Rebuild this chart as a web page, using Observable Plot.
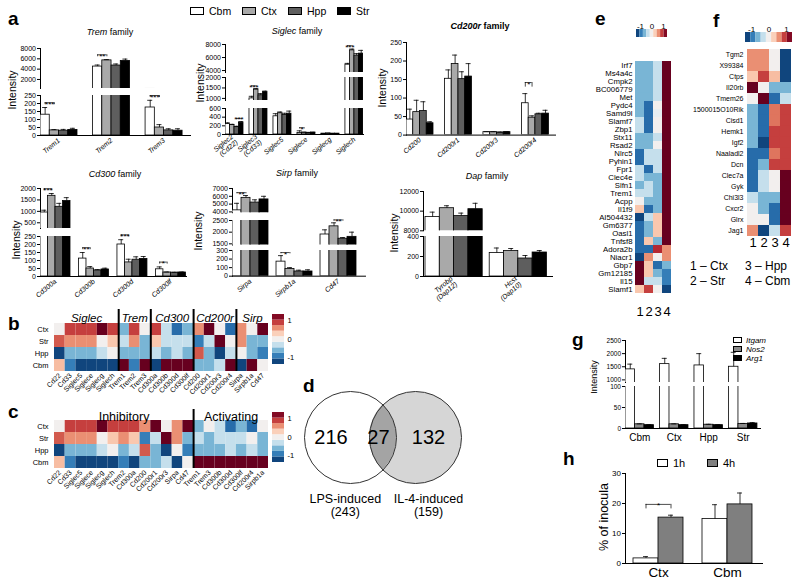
<!DOCTYPE html>
<html><head><meta charset="utf-8">
<script src="https://cdn.jsdelivr.net/npm/d3@7"></script>
<script src="https://cdn.jsdelivr.net/npm/@observablehq/plot@0.6"></script>
<style>
body{margin:0;background:#fff;}
#root{position:relative;width:800px;height:584px;overflow:hidden;background:#fff;}
</style></head>
<body><div id="root"></div>
<script>
// ================= DATA =================
const regions = ["Cbm", "Ctx", "Hpp", "Str"];
const regionFills = ["#ffffff", "#a9a9a9", "#5e5e5e", "#000000"];

const tremGenes = ["Trem1", "Trem2", "Trem3"];
const tremMean = [[130, 32, 30, 35], [4500, 5700, 4700, 5600], [175, 50, 32, 30]];
const tremErr = [[45, 5, 8, 10], [300, 150, 300, 350], [45, 18, 10, 12]];
const tremSig = [["Trem1", "Cbm", "Ctx", "***"], ["Trem2", "Cbm", "Ctx", "**"], ["Trem3", "Cbm", "Ctx", "***"]];

const siglecGenes = ["Siglec2", "Siglec3", "Siglec5", "Siglece", "Siglecg", "Siglech"];
const siglecLabels = ["Siglec2\n(Cd22)", "Siglec3\n(Cd33)", "Siglec5", "Siglece", "Siglecg", "Siglech"];
const siglecMean = [[240, 220, 170, 270], [1000, 1420, 1150, 1300], [420, 490, 450, 480], [35, 45, 40, 45], [20, 25, 20, 20], [4900, 7100, 6300, 6600]];
const siglecErr = [[30, 15, 20, 30], [100, 50, 80, 50], [60, 30, 40, 60], [50, 5, 5, 5], [3, 3, 3, 3], [200, 200, 300, 500]];
const siglecSig = [["Siglec2", "Hpp", "Str", "***"], ["Siglec3", "Cbm", "Ctx", "***"], ["Siglece", "Cbm", "Ctx", "*"], ["Siglech", "Cbm", "Ctx", "***"]];

const cd200rGenes = ["Cd200", "Cd200r1", "Cd200r3", "Cd200r4"];
const cd200rMean = [[42, 62, 65, 32], [152, 192, 151, 158], [8, 8, 7, 8], [86, 47, 56, 58]];
const cd200rErr = [[28, 32, 25, 4], [24, 24, 20, 35], [1, 1, 1, 1], [26, 5, 3, 9]];
const cd200rSig = [["Cd200r4", "Cbm", "Ctx", "*"]];

const cd300Genes = ["Cd300a", "Cd300b", "Cd300d", "Cd300lf"];
const cd300Mean = [[950, 1680, 1200, 1450], [112, 50, 38, 44], [200, 88, 105, 110], [45, 25, 24, 25]];
const cd300Err = [[100, 100, 150, 150], [38, 12, 5, 8], [30, 20, 18, 15], [15, 3, 2, 3]];
const cd300Sig = [["Cd300a", "Cbm", "Ctx", "***"], ["Cd300b", "Cbm", "Ctx", "**"], ["Cd300d", "Cbm", "Ctx", "***"], ["Cd300lf", "Cbm", "Ctx", "*"]];

const sirpGenes = ["Sirpa", "Sirpb1a", "Cd47"];
const sirpMean = [[4200, 5800, 5200, 5600], [170, 85, 55, 55], [1900, 2250, 1720, 1800]];
const sirpErr = [[900, 300, 350, 400], [70, 15, 15, 20], [200, 150, 50, 200]];
const sirpSig = [["Sirpa", "Cbm", "Ctx", "**"], ["Sirpb1a", "Cbm", "Ctx", "*"], ["Cd47", "Ctx", "Hpp", "**"]];

const dapGenes = ["Tyrobp", "Hcst"];
const dapLabels = ["Tyrobp\n(Dap12)", "Hcst\n(Dap10)"];
const dapMean = [[9400, 10300, 9500, 10200], [235, 255, 180, 240]];
const dapErr = [[500, 250, 300, 600], [50, 25, 30, 20]];

// panel b / c heatmaps (rows: Ctx, Str, Hpp, Cbm)
const bRows = ["Ctx", "Str", "Hpp", "Cbm"];
const bGenes = ["Cd22", "Cd33", "Siglec5", "Siglece", "Siglecg", "Siglech", "Trem1", "Trem2", "Trem3", "Cd300a", "Cd300b", "Cd300d", "Cd300lf", "Cd200", "Cd200r1", "Cd200r3", "Cd200r4", "Sirpa", "Sirpb1a", "Cd47"];
const bValues = [
  [0, 0.8, -1.2, 0.4], [0.9, 0.6, -0.6, -0.9], [0.9, 0.6, -0.6, -1.2], [0.9, 0.6, -0.6, -1.2],
  [1.3, 0, -0.3, -1.2], [0.9, 0.35, 0, -1.2], [-0.6, -0.3, -0.6, 1.3], [0.9, 0.6, -0.6, -0.9],
  [0, -0.6, -0.6, 1.3], [0.9, 0.35, -0.3, -1.2], [-0.3, -0.3, -0.6, 1.3], [-1.0, -0.3, -0.3, 1.3],
  [-0.6, -0.3, -0.6, 1.3], [0.6, -0.9, 0.8, -0.6], [1.3, -0.3, -0.6, -0.6], [0, 1.3, -1.2, -0.3],
  [-1.0, 0, -0.3, 1.3], [0.6, 0.6, 0, -1.2], [0, -0.6, -0.6, 1.3], [1.3, -0.6, -0.9, 0]
];
const bGroups = ["Siglec", "Trem", "Cd300", "Cd200r", "Sirp"];
const bGroupSizes = [6, 3, 4, 4, 3];
const cGenes = ["Cd22", "Cd33", "Siglec5", "Siglece", "Siglecg", "Siglech", "Trem2", "Cd300a", "Cd200", "Cd200r1", "Cd200r3", "Sirpa", "Cd47", "Trem1", "Trem3", "Cd300b", "Cd300d", "Cd300lf", "Cd200r4", "Sirpb1a"];
const cGroups = ["Inhibitory", "Activating"];
const cGroupSizes = [13, 7];

// panel d Venn
const vennSets = ["LPS-induced", "IL-4-induced"];
const vennTotals = [243, 159];
const vennCounts = [216, 27, 132];

// panel e heatmap (columns 1..4)
const eGenes = ["Irf7", "Ms4a4c", "Cmpk2", "BC006779", "Met", "Pydc4", "Samd9l", "Slamf7", "Zbp1", "Stx11", "Rsad2", "Nlrc5", "Pyhin1", "Fpr1", "Clec4e", "Slfn1", "Trem1", "Acpp", "Il1f9", "AI504432", "Gm6377", "Oasl1", "Tnfsf8", "Adora2b", "Niacr1", "Gbp7", "Gm12185", "Il15", "Slamf1"];
const eValues = [
  [-0.6, -0.6, -0.3, 1.3], [-0.6, -0.6, -0.3, 1.3], [-0.6, -0.6, -0.3, 1.3], [-0.6, -0.6, -0.3, 1.3],
  [-0.6, -0.6, -0.3, 1.3], [-0.6, -1.0, 0, 1.3], [-0.6, -1.0, -0.1, 1.3], [-0.3, -1.0, 0, 1.3],
  [-0.3, -1.0, 0, 1.3], [-0.6, -0.6, -0.3, 1.3], [-0.6, -0.6, 0, 1.3], [-1.0, -0.3, -0.3, 1.3],
  [-1.0, -0.3, -0.3, 1.3], [-0.3, -1.0, -0.3, 1.3], [-0.3, -0.6, -0.6, 1.3], [-0.6, -0.3, -0.6, 1.3],
  [-0.3, -0.3, -0.6, 1.3], [0, -0.6, -0.6, 1.3], [0.35, -1.0, -0.6, 1.3], [-1.2, -0.3, 0.35, 1.3],
  [-1.0, -0.6, 0.35, 1.3], [-1.0, -0.6, 0.35, 1.3], [-1.0, 0.35, -0.6, 1.3], [-1.0, -1.0, 1.0, 0.6],
  [-1.2, 0.6, 0, 0.6], [1.3, 0.35, -1.0, -0.6], [1.3, 0.35, -0.6, -0.9], [1.3, -0.3, -0.3, -0.9],
  [0.35, 0.9, 0, -1.2]
];
// panel f heatmap
const fGenes = ["Tgm2", "X99384", "Ctps", "Il20rb", "Tmem26", "1500015O10Rik", "Cisd1", "Hemk1", "Igf2", "Naaladl2", "Dcn", "Clec7a", "Gyk", "Chi3l3", "Cxcr2", "Glrx", "Jag1"];
const fValues = [
  [0.6, 0.6, 0, -1.2], [0.6, 0.6, 0, -1.2], [0.35, 0.9, 0.4, -1.2], [1.3, 0, -0.6, -0.6],
  [0, 1.3, -1.0, -0.3], [-0.6, -1.0, 0.7, 0.9], [-0.6, -1.0, 0.7, 0.9], [-0.6, -1.0, 0.9, 0.9],
  [-0.6, -1.2, 0.9, 0.9], [-1.0, -1.0, 0.7, 0.9], [-1.0, -0.6, 0.9, 0.9], [-1.0, -0.3, 0, 1.3],
  [-1.0, -0.3, 0, 1.3], [-0.3, -0.6, -0.6, 1.3], [0, -0.6, -1.0, 1.3], [0, 0, -1.0, 1.3],
  [0.6, -1.2, -0.3, 0.9]
];
const heatCols = ["1", "2", "3", "4"];
const legendSteps = [-1.2, -0.9, -0.6, -0.3, 0, 0.3, 0.6, 0.9, 1.2];
const legendTicks = [-1, 0, 1];

// panel g
const gGroups = ["Cbm", "Ctx", "Hpp", "Str"];
const gSeries = ["Itgam", "Nos2", "Arg1"];
const gFills = ["#ffffff", "#8a8a8a", "#000000"];
const gMean = [[1400, 10, 8], [1600, 10, 8], [1550, 9, 8], [1500, 11, 12]];
const gErr = [[200, 1, 1], [220, 1, 1], [450, 1, 1], [550, 1, 2]];

// panel h
const hGroups = ["Ctx", "Cbm"];
const hSeries = ["1h", "4h"];
const hFills = ["#ffffff", "#7f7f7f"];
const hMean = [[1.7, 15.3], [14.8, 19.7]];
const hErr = [[0.6, 0.8], [4.8, 3.8]];
const hSig = [["Ctx", "1h", "4h", "*"]];

// ================= HELPERS =================
const FONT = '"Liberation Sans", Arial, Helvetica, sans-serif';
const root = document.getElementById("root");
const heatColor = {type: "linear", scheme: "rdbu", reverse: true, domain: [-1.3, 1.3]};
const legendFmt = d => (d < 0 ? "-" : "") + Math.abs(d);

function place(node, x, y) {
  node.style.position = "absolute";
  node.style.left = x + "px";
  node.style.top = y + "px";
  root.appendChild(node);
  return node;
}
function txt(html, x, base, size, opts = {}) {
  const d = document.createElement("div");
  d.innerHTML = html;
  const a = opts.anchor || "start";
  const tx = a === "middle" ? "-50%" : a === "end" ? "-100%" : "0";
  d.style.cssText = `position:absolute;white-space:nowrap;line-height:1;font-family:${FONT};font-size:${size}px;left:${x}px;top:${base - 0.846 * size}px;transform:translateX(${tx});` + (opts.css || "");
  root.appendChild(d);
}
function vtxt(html, cx, cy, size, css = "") {
  const d = document.createElement("div");
  d.innerHTML = html;
  d.style.cssText = `position:absolute;white-space:nowrap;line-height:1;font-family:${FONT};font-size:${size}px;left:${cx}px;top:${cy}px;transform:translate(-50%,-50%) rotate(-90deg);` + css;
  root.appendChild(d);
}
function swatch(x, y, w, h, fill) {
  const d = document.createElement("div");
  d.style.cssText = `position:absolute;left:${x}px;top:${y}px;width:${w}px;height:${h}px;background:${fill};border:1px solid #000;box-sizing:border-box;`;
  root.appendChild(d);
}
function styleX(p, size, italic) {
  p.querySelectorAll('[aria-label^="x-axis"] text').forEach(t => {
    t.style.fontSize = size + "px";
    if (italic) t.style.fontStyle = "italic";
  });
}
function styleY(p, size) {
  p.querySelectorAll('[aria-label^="y-axis"] text').forEach(t => { t.style.fontSize = size + "px"; });
}

// Grouped bar chart with (optionally) broken y axis: one Plot per axis segment
function barChart(c) {
  const nS = c.series.length, stride = nS + c.gap, off = c.offset || 0;
  const pos = (gi, si) => off + gi * stride + si;
  const rows = [];
  c.genes.forEach((g, gi) => c.series.forEach((s, si) =>
    rows.push({gi, si, v: c.mean[gi][si], e: c.err[gi][si], fill: c.fills[si]})));
  const frameW = c.axisEnd - c.left, xMax = frameW / c.bar;
  const labels = c.labels || c.genes;
  const centers = c.genes.map((g, gi) => pos(gi, 0) + nS / 2);
  const labAt = new Map(centers.map((x, i) => [x, labels[i]]));
  const cap = 2.5 / c.bar;
  const sigs = (c.sig || []).map(([g, a, b, t]) => {
    const gi = c.genes.indexOf(g), ai = c.series.indexOf(a), bi = c.series.indexOf(b);
    const top = Math.max(c.mean[gi][ai] + c.err[gi][ai], c.mean[gi][bi] + c.err[gi][bi]);
    return {xa: pos(gi, ai) + 0.5, xb: pos(gi, bi) + 0.5, top, t};
  });
  const segOf = s => {
    let k = c.segs.findIndex(sg => s.top >= sg.d[0] && s.top <= sg.d[1]);
    if (k < 0) {
      let best = -1, bestD1 = -Infinity;
      c.segs.forEach((sg, j) => { if (sg.d[1] < s.top && sg.d[1] > bestD1) { best = j; bestD1 = sg.d[1]; } });
      k = best < 0 ? 0 : best;
    }
    return k;
  };
  c.segs.forEach((seg, k) => {
    const first = k === 0, last = k === c.segs.length - 1;
    const span = seg.d[1] - seg.d[0];
    const mine = sigs.filter(s => segOf(s) === k).map(s => ({...s, h: s.top + 0.12 * span, tip: 0.05 * span}));
    const ML = 34, MR = 4, MT = first ? 18 : 4, MB = last ? 34 : 2;
    const H = seg.b - seg.t;
    const p = Plot.plot({
      width: ML + frameW + MR, height: MT + H + MB,
      marginLeft: ML, marginRight: MR, marginTop: MT, marginBottom: MB,
      style: {fontFamily: FONT, fontSize: c.tick + "px", background: "transparent", overflow: "visible", color: "#000"},
      color: {type: "identity"},
      x: last
        ? {domain: [0, xMax], ticks: centers, tickFormat: d => labAt.get(d), tickRotate: c.rotate || 0, tickSize: 0, tickPadding: c.xPad, line: true, label: null}
        : {domain: [0, xMax], axis: null},
      y: {domain: seg.d, ticks: seg.ticks, tickFormat: "d", tickSize: 3, tickPadding: 1.5, line: true, label: null},
      marks: [
        Plot.rect(rows, {x1: d => pos(d.gi, d.si), x2: d => pos(d.gi, d.si) + 1, y1: 0, y2: "v", fill: "fill", stroke: "#000", strokeWidth: 0.8, clip: true}),
        Plot.ruleX(rows, {x: d => pos(d.gi, d.si) + 0.5, y1: "v", y2: d => d.v + d.e, stroke: "#000", strokeWidth: 0.8, clip: true}),
        Plot.ruleY(rows, {x1: d => pos(d.gi, d.si) + 0.5 - cap, x2: d => pos(d.gi, d.si) + 0.5 + cap, y: d => d.v + d.e, stroke: "#000", strokeWidth: 0.8, clip: true}),
        Plot.ruleY(mine, {x1: "xa", x2: "xb", y: "h", stroke: "#000", strokeWidth: 0.7}),
        Plot.ruleX(mine, {x: "xa", y1: d => d.h - d.tip, y2: "h", stroke: "#000", strokeWidth: 0.7}),
        Plot.ruleX(mine, {x: "xb", y1: d => d.h - d.tip, y2: "h", stroke: "#000", strokeWidth: 0.7}),
        Plot.text(mine, {x: d => (d.xa + d.xb) / 2, y: "h", text: "t", lineAnchor: "bottom", dy: 4, fontSize: 8, fill: "#000"})
      ]
    });
    if (last) styleX(p, c.xFont, c.italic);
    place(p, c.left - ML, seg.t - MT);
  });
}

function stripHeat(cfg) {
  const {genes, rows, values, groups, sizes, italic, x0, x1, y0, rowH} = cfg;
  const n = genes.length;
  const cells = [];
  genes.forEach((g, i) => rows.forEach((r, j) => cells.push({i, r, v: values[i][j]})));
  const starts = [];
  sizes.reduce((acc, s) => (starts.push(acc), acc + s), 0);
  const centers = d3.range(n).map(i => i + 0.5);
  const labAt = new Map(centers.map((x, i) => [x, genes[i]]));
  const ML = 40, MR = 2, MT = 22, MB = 34;
  const W = x1 - x0, H = rows.length * rowH;
  const p = Plot.plot({
    width: ML + W + MR, height: MT + H + MB,
    marginLeft: ML, marginRight: MR, marginTop: MT, marginBottom: MB,
    style: {fontFamily: FONT, fontSize: "7px", background: "transparent", overflow: "visible", color: "#000"},
    x: {domain: [0, n], ticks: centers, tickFormat: d => labAt.get(d), tickRotate: -45, tickSize: 0, tickPadding: 3, label: null},
    y: {domain: rows, padding: 0, tickSize: 0, tickPadding: 6, label: null},
    color: heatColor,
    marks: [
      Plot.barX(cells, {x1: "i", x2: d => d.i + 1, y: "r", fill: "v"}),
      Plot.ruleX(starts.slice(1), {stroke: "#000", strokeWidth: 2, insetTop: -cfg.sepUp}),
      Plot.text(groups, {x: (d, k) => starts[k] + sizes[k] / 2, frameAnchor: "top", dy: -cfg.labUp, text: d => d, fontSize: cfg.labFont, fontStyle: italic ? "italic" : "normal", fill: "#000"})
    ]
  });
  styleY(p, 7.5);
  place(p, x0 - ML, y0 - MT);
}

function colHeat(genes, values, x0, x1, y0, y1, rowFont) {
  const cells = genes.flatMap((g, i) => heatCols.map((c, j) => ({g, c, v: values[i][j]})));
  const ML = 80, MR = 2, MT = 1, MB = 20;
  const p = Plot.plot({
    width: ML + (x1 - x0) + MR, height: MT + (y1 - y0) + MB,
    marginLeft: ML, marginRight: MR, marginTop: MT, marginBottom: MB,
    style: {fontFamily: FONT, fontSize: rowFont + "px", background: "transparent", overflow: "visible", color: "#000"},
    x: {domain: heatCols, padding: 0, tickSize: 0, tickPadding: 1, label: null},
    y: {domain: genes, padding: 0, tickSize: 0, tickPadding: 2, label: null},
    color: heatColor,
    marks: [Plot.cell(cells, {x: "c", y: "g", fill: "v", inset: 0})]
  });
  styleX(p, 13, false);
  place(p, x0 - ML, y0 - MT);
}

function hColorbar(x0, x1, y0, y1) {
  const MT = 10;
  const p = Plot.plot({
    width: (x1 - x0) + 4, height: MT + (y1 - y0),
    marginLeft: 2, marginRight: 2, marginTop: MT, marginBottom: 0,
    style: {fontFamily: FONT, fontSize: "8px", background: "transparent", overflow: "visible", color: "#000"},
    x: {domain: [-1.35, 1.35], axis: "top", ticks: legendTicks, tickFormat: legendFmt, tickSize: 0, tickPadding: 1, label: null},
    y: {domain: [0, 1], axis: null},
    color: heatColor,
    marks: [Plot.rect(legendSteps, {x1: d => d - 0.15, x2: d => d + 0.15, y1: 0, y2: 1, fill: d => d})]
  });
  place(p, x0 - 2, y0 - MT);
}
function vColorbar(x0, x1, y0, y1) {
  const p = Plot.plot({
    width: (x1 - x0) + 16, height: (y1 - y0) + 4,
    marginLeft: 0, marginRight: 16, marginTop: 2, marginBottom: 2,
    style: {fontFamily: FONT, fontSize: "7.5px", background: "transparent", overflow: "visible", color: "#000"},
    y: {domain: [-1.35, 1.35], axis: "right", ticks: legendTicks, tickFormat: legendFmt, tickSize: 0, tickPadding: 3, label: null},
    x: {domain: [0, 1], axis: null},
    color: heatColor,
    marks: [Plot.rect(legendSteps, {y1: d => d - 0.15, y2: d => d + 0.15, x1: 0, x2: 1, fill: d => d})]
  });
  place(p, x0, y0 - 2);
}

// ================= PANEL a =================
txt("a", 8, 25, 19, {css: "font-weight:bold;"});
regions.forEach((r, i) => {
  const xs = [190, 242, 288, 337][i];
  swatch(xs, 7, 14, 8, regionFills[i]);
  txt(r, xs + 19, 15, 10.5);
});

const aCommon = {series: regions, fills: regionFills, tick: 7, xFont: 7, italic: true, rotate: -40, xPad: 4};
barChart({...aCommon, genes: tremGenes, mean: tremMean, err: tremErr, sig: tremSig,
  left: 40, bar: 9.25, gap: 1.68, axisEnd: 190,
  segs: [{d: [250, 8000], t: 48, b: 88, ticks: [2000, 4000, 6000, 8000]}, {d: [0, 250], t: 95, b: 135, ticks: [0, 50, 100, 150, 200, 250]}]});
barChart({...aCommon, genes: siglecGenes, labels: siglecLabels, mean: siglecMean, err: siglecErr, sig: siglecSig,
  left: 225, bar: 4.5, gap: 1.33, axisEnd: 363,
  segs: [{d: [3700, 8000], t: 44, b: 72, ticks: [4000, 6000, 8000]}, {d: [900, 2000], t: 77, b: 100, ticks: [1000, 1500, 2000]}, {d: [0, 600], t: 108, b: 134, ticks: [0, 200, 400, 600]}]});
barChart({...aCommon, genes: cd200rGenes, mean: cd200rMean, err: cd200rErr, sig: cd200rSig,
  left: 406, bar: 6.75, gap: 1.7, axisEnd: 555,
  segs: [{d: [0, 250], t: 41.7, b: 134.3, ticks: [0, 50, 100, 150, 200, 250]}]});
barChart({...aCommon, genes: cd300Genes, mean: cd300Mean, err: cd300Err, sig: cd300Sig,
  left: 40, bar: 7.5, gap: 1.13, axisEnd: 186,
  segs: [{d: [250, 2000], t: 188, b: 228, ticks: [500, 1000, 1500, 2000]}, {d: [0, 250], t: 235.7, b: 275.7, ticks: [0, 50, 100, 150, 200, 250]}]});
barChart({...aCommon, genes: sirpGenes, mean: sirpMean, err: sirpErr, sig: sirpSig,
  left: 232, bar: 9, gap: 0.89, axisEnd: 365,
  segs: [{d: [3900, 7000], t: 188.3, b: 212.5, ticks: [4000, 5000, 6000, 7000]}, {d: [1450, 2500], t: 220, b: 244.5, ticks: [1500, 2000, 2500]}, {d: [0, 300], t: 250, b: 275.7, ticks: [0, 100, 200, 300]}]});
barChart({...aCommon, genes: dapGenes, labels: dapLabels, mean: dapMean, err: dapErr, sig: [],
  left: 423, bar: 14.3, gap: 0.49, offset: 0.14, axisEnd: 552,
  segs: [{d: [8000, 12000], t: 190.7, b: 230, ticks: [8000, 10000, 12000]}, {d: [0, 400], t: 236, b: 276, ticks: [0, 200, 400]}]});

txt("<i>Trem</i> family", 110, 36, 9, {anchor: "middle"});
txt("<i>Siglec</i> family", 297, 35, 9, {anchor: "middle"});
txt("<i>Cd200r</i> family", 480, 30, 9, {anchor: "middle", css: "font-weight:bold;"});
txt("<i>Cd300</i> family", 115, 178, 9, {anchor: "middle"});
txt("<i>Sirp</i> family", 297, 177, 9, {anchor: "middle"});
txt("<i>Dap</i> family", 487, 180, 9, {anchor: "middle"});
[[12, 90], [200, 83], [382, 88], [16, 240], [198, 231], [394, 233]].forEach(([x, y]) => vtxt("Intensity", x, y, 10.5));

// ================= PANELS b, c =================
txt("b", 8, 330, 19, {css: "font-weight:bold;"});
stripHeat({genes: bGenes, rows: bRows, values: bValues, groups: bGroups, sizes: bGroupSizes, italic: true,
  x0: 54, x1: 268, y0: 323, rowH: 12, sepUp: 14, labUp: 10, labFont: 11.5});
vColorbar(272, 284, 314, 364);

txt("c", 8, 418, 19, {css: "font-weight:bold;"});
const cValues = cGenes.map(g => bValues[bGenes.indexOf(g)]);
stripHeat({genes: cGenes, rows: bRows, values: cValues, groups: cGroups, sizes: cGroupSizes, italic: false,
  x0: 54, x1: 268, y0: 420, rowH: 12, sepUp: 11, labUp: 8, labFont: 12.5});
vColorbar(272, 284, 412, 462);

// ================= PANEL d (Venn) =================
txt("d", 303, 392, 19, {css: "font-weight:bold;"});
const VR = 46;
function lensMark(index, scales, values, dims) {
  const xa = scales.x(0), xb = scales.x(1);
  const cy = dims.marginTop + (dims.height - dims.marginTop - dims.marginBottom) / 2;
  const a = (xb - xa) / 2, hh = Math.sqrt(VR * VR - a * a), mx = (xa + xb) / 2;
  const path = document.createElementNS("http://www.w3.org/2000/svg", "path");
  path.setAttribute("d", `M${mx},${cy - hh}A${VR},${VR} 0 0 1 ${mx},${cy + hh}A${VR},${VR} 0 0 1 ${mx},${cy - hh}Z`);
  path.setAttribute("fill", "#a4a4a4");
  return path;
}
const venn = Plot.plot({
  width: 180, height: 150, marginLeft: 0, marginRight: 0, marginTop: 0, marginBottom: 46,
  style: {fontFamily: FONT, background: "transparent", overflow: "visible", color: "#000"},
  x: {domain: [-50 / 65, 130 / 65], axis: null},
  marks: [
    Plot.dot([1], {x: d => d, r: VR, fill: "#d6d6d6", stroke: "none"}),
    lensMark,
    Plot.dot([0, 1], {x: d => d, r: VR, fill: "none", stroke: "#333", strokeWidth: 1}),
    Plot.text(vennCounts, {x: (d, i) => [-0.3, 0.43, 1.2][i], text: d => String(d), fontSize: 20, fill: "#000"}),
    Plot.text(vennSets, {x: (d, i) => [-0.08, 1.2][i], text: (d, i) => d + "\n(" + vennTotals[i] + ")", frameAnchor: "bottom", lineAnchor: "top", dy: 5, fontSize: 12.5, fill: "#000"})
  ]
});
place(venn, 300, 385);

// ================= PANELS e, f =================
txt("e", 595, 25, 19, {css: "font-weight:bold;"});
hColorbar(636, 667, 29, 37);
colHeat(eGenes, eValues, 634, 671, 48.9, 305.1, 7.8);

txt("f", 713, 27, 19, {css: "font-weight:bold;"});
hColorbar(745, 792, 32, 42);
colHeat(fGenes, fValues, 745, 792, 48.5, 236.2, 7);
txt("1 – Ctx", 690, 270, 12);
txt("3 – Hpp", 745, 270, 12);
txt("2 – Str", 690, 285, 12);
txt("4 – Cbm", 745, 285, 12);

// ================= PANEL g =================
txt("g", 572, 346, 19, {css: "font-weight:bold;"});
barChart({genes: gGroups, series: gSeries, fills: gFills, mean: gMean, err: gErr, sig: [],
  tick: 6.5, xFont: 10, italic: false, rotate: 0, xPad: 5,
  left: 625, bar: 9.5, gap: 0.63, axisEnd: 760,
  segs: [{d: [900, 2500], t: 340, b: 382, ticks: [1000, 1500, 2000, 2500]}, {d: [0, 100], t: 386, b: 428, ticks: [0, 50, 100]}]});
vtxt("Intensity", 594, 377, 9);
gSeries.forEach((s, i) => {
  swatch(733, 337 + i * 9, 9, 6, gFills[i]);
  txt(`<i>${s}</i>`, 746, 344 + i * 9, 8);
});

// ================= PANEL h =================
txt("h", 563, 465, 19, {css: "font-weight:bold;"});
barChart({genes: hGroups, series: hSeries, fills: hFills, mean: hMean, err: hErr, sig: hSig,
  tick: 8, xFont: 13.5, italic: false, rotate: 0, xPad: 4,
  left: 625, bar: 25, gap: 0.76, offset: 0.32, axisEnd: 762,
  segs: [{d: [0, 30], t: 473, b: 563, ticks: [0, 10, 20, 30]}]});
vtxt("% of inocula", 604, 517, 12.5);
hSeries.forEach((s, i) => {
  const xs = [657, 707][i];
  swatch(xs, 459, 11, 8, hFills[i]);
  txt(s, xs + 16, 467, 11);
});
</script>
</body></html>
